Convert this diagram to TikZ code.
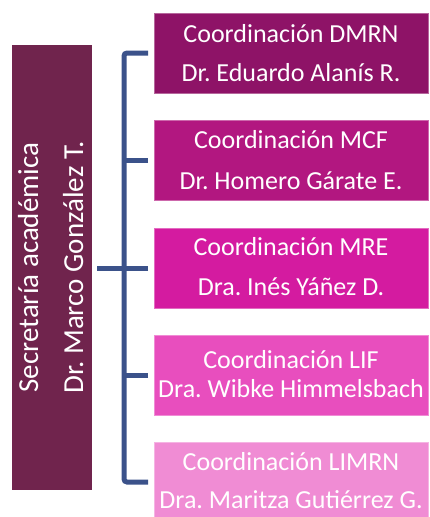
\documentclass[tikz,border=0pt]{standalone}
\usepackage{fontspec}
\setmainfont{Carlito}
\frenchspacing
\definecolor{secc}{RGB}{112,36,77}
\definecolor{c1}{RGB}{142,19,103}
\definecolor{c2}{RGB}{178,23,128}
\definecolor{c3}{RGB}{212,27,160}
\definecolor{c4}{RGB}{232,78,190}
\definecolor{c5}{RGB}{240,140,212}
\definecolor{brk}{RGB}{59,82,138}
\tikzset{
  coordbox/.style={rectangle, minimum width=274pt, inner sep=0pt, anchor=north west, draw=#1!65!white, line width=0.6pt, fill=#1},
  rtext/.style={anchor=base, text=white, inner sep=0pt, font=\fontsize{26}{30}\selectfont\frenchspacing},
  ltext/.style={anchor=base, text=white, inner sep=0pt, rotate=90, font=\fontsize{29}{33}\selectfont\frenchspacing},
  bracket/.style={draw=brk, line width=5pt},
}
\begin{document}
\begin{tikzpicture}[x=1pt,y=-1pt]
\useasboundingbox (0,0) rectangle (430,517);
% left box
\node[rectangle, fill=secc, minimum width=80pt, minimum height=445pt, inner sep=0pt, anchor=north west] (sec) at (12,45) {};
\node[ltext] (sec1) at (38,267.5) {Secretaría académica};
\node[ltext] (sec2) at (83,267.5) {Dr. Marco González T.};
% right boxes
\node[coordbox=c1, minimum height=80pt] (b1) at (154,13) {};
\node[coordbox=c2, minimum height=80pt] (b2) at (154,120) {};
\node[coordbox=c3, minimum height=80pt] (b3) at (154,228) {};
\node[coordbox=c4, minimum height=80pt] (b4) at (154,335) {};
\node[coordbox=c5, minimum height=75pt] (b5) at (154,442) {};
\node[rtext] (t1a) at (291,42) {Coordinación DMRN};
\node[rtext] (t1b) at (291,81) {Dr. Eduardo Alanís R.};
\node[rtext] (t2a) at (291,148) {Coordinación MCF};
\node[rtext] (t2b) at (291,189) {Dr. Homero Gárate E.};
\node[rtext] (t3a) at (291,255) {Coordinación MRE};
\node[rtext] (t3b) at (291,295) {Dra. Inés Yáñez D.};
\node[rtext] (t4a) at (291,368) {Coordinación LIF};
\node[rtext] (t4b) at (291,397) {Dra. Wibke Himmelsbach};
\node[rtext] (t5a) at (291,470) {Coordinación LIMRN};
\node[rtext] (t5b) at (291,508) {Dra. Maritza Gutiérrez G.};
% bracket
\coordinate (jt) at (124,53);
\coordinate (jb) at (124,482);
\draw[bracket, rounded corners=3pt, shorten <=6pt, shorten >=6pt] (b1.west |- jt) -- (jt) -- (jb) -- (b5.west |- jb);
\draw[bracket, shorten <=6pt] (b2.west) -- (b2.west -| jt);
\draw[bracket, shorten <=6pt] (b3.west) -- (b3.west -| jt);
\draw[bracket, shorten <=6pt] (b4.west) -- (b4.west -| jt);
\draw[bracket, shorten <=5pt] (sec.east |- b3.west) -- (jt |- b3.west);
\end{tikzpicture}
\end{document}
